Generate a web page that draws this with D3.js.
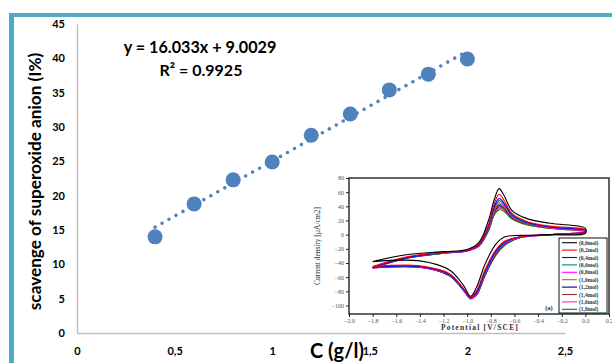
<!DOCTYPE html>
<html>
<head>
<meta charset="utf-8">
<script src="https://cdn.jsdelivr.net/npm/d3@7"></script>
<style>
  body { margin: 0; background: #fff; }
  text { font-family: Lato, "Open Sans", sans-serif; }
  .cv text { font-family: "Liberation Serif", "DejaVu Serif", serif; }
</style>
</head>
<body>
<script>
// main scatter data
const concentrations = [0.4, 0.6, 0.8, 1.0, 1.2, 1.4, 1.6, 1.8, 2.0];
const scavenge = [14.0, 18.8, 22.3, 24.9, 28.8, 31.9, 35.4, 37.7, 39.9];
const xTicks = [0, 0.5, 1, 1.5, 2, 2.5];
const yTicks = [0, 5, 10, 15, 20, 25, 30, 35, 40, 45];
const trendSlope = 16.033, trendIntercept = 9.0029, rSquared = 0.9925;

// inset voltammogram: potentials for the forward then the return branch
const potentials = [-1.8, -1.5, -1.2, -1.0, -0.9, -0.82, -0.77, -0.73, -0.69, -0.62, -0.5, -0.3, 0.0,
                    0.0, -0.3, -0.55, -0.68, -0.76, -0.85, -0.92, -0.97, -1.03, -1.15, -1.4, -1.8];
const cvLabels = ["(0,0mol)", "(0,2mol)", "(0,4mol)", "(0,6mol)", "(0,8mol)",
                  "(1,0mol)", "(1,2mol)", "(1,4mol)", "(1,6mol)", "(1,8mol)"];
const cvColors = ["#000000", "#ff0000", "#0000ff", "#008080", "#ff00ff",
                  "#808000", "#000080", "#993333", "#ff3399", "#008000"];
const cv00 = [-38, -28, -24, -21, -11, 20, 50, 65, 56, 34, 23, 16, 9,   2, 0, -1, -3, -14, -42, -74, -87, -72, -50, -37, -38];
const cv02 = [-45, -31, -25, -22, -13, 14, 44, 57, 49, 30, 19, 12, 7,   4, 0, -3, -9, -22, -50, -79, -88, -76, -55, -44, -45];
const cv04 = [-46, -32, -25, -22, -14, 12, 40, 51, 45, 28, 18, 11, 6,   4, 0, -3, -10, -24, -53, -81, -89, -77, -56, -45, -46];
const cv06 = [-46, -32, -26, -22, -14, 11, 38, 48, 43, 27, 17, 11, 6,   4, 0, -3, -11, -25, -54, -82, -89, -78, -57, -45, -46];
const cv08 = [-47, -32, -26, -23, -15, 10, 36, 45, 41, 26, 17, 10, 5,   4, 0, -4, -12, -26, -55, -83, -91, -79, -57, -46, -47];
const cv10 = [-46, -32, -26, -22, -15, 9, 34, 43, 39, 25, 16, 10, 5,    4, 0, -4, -12, -27, -56, -83, -89, -78, -57, -45, -46];
const cv12 = [-47, -33, -26, -23, -15, 8, 33, 41, 38, 24, 16, 10, 5,    4, 0, -4, -13, -28, -57, -84, -90, -79, -58, -46, -47];
const cv14 = [-46, -32, -26, -22, -16, 7, 31, 39, 36, 23, 15, 9, 5,     3, 0, -4, -13, -28, -57, -84, -89, -78, -57, -45, -46];
const cv16 = [-47, -33, -26, -23, -16, 6, 30, 37, 35, 23, 15, 9, 4,     3, 0, -4, -14, -29, -58, -85, -90, -79, -58, -46, -47];
const cv18 = [-46, -32, -26, -22, -16, 5, 28, 35, 33, 22, 14, 9, 4,     3, 0, -4, -15, -30, -58, -85, -89, -78, -57, -45, -46];
const cvCurrents = [cv00, cv02, cv04, cv06, cv08, cv10, cv12, cv14, cv16, cv18];
const cvXTicks = [-2.0, -1.8, -1.6, -1.4, -1.2, -1.0, -0.8, -0.6, -0.4, -0.2, 0.0, 0.2];
const cvYTicks = [-100, -80, -60, -40, -20, 0, 20, 40, 60, 80];

const W = 612, H = 363;
const svg = d3.select("body").append("svg").attr("width", W).attr("height", H);
svg.append("rect").attr("width", W).attr("height", H).attr("fill", "#fff");

// teal frame (top and left)
svg.append("rect").attr("x", 9).attr("y", 13).attr("width", W - 9).attr("height", 4).attr("fill", "#4bacc6");
svg.append("rect").attr("x", 9).attr("y", 13).attr("width", 5).attr("height", H - 13).attr("fill", "#4bacc6");

const x = d3.scaleLinear().domain([0, 2.5]).range([77, 565]);
const y = d3.scaleLinear().domain([0, 45]).range([333, 24]);
const comma = v => String(v).replace(".", ",");

const xAxis = svg.append("g").attr("transform", "translate(0,333)")
  .call(d3.axisBottom(x).tickValues(xTicks).tickSize(0).tickPadding(14).tickFormat(comma));
const yAxis = svg.append("g").attr("transform", "translate(77,0)")
  .call(d3.axisLeft(y).tickValues(yTicks).tickSize(0).tickPadding(12));
[xAxis, yAxis].forEach(a => {
  a.select(".domain").attr("stroke", "#bfbfbf").attr("stroke-width", 1.5);
  a.selectAll("text").attr("font-size", 11).attr("font-weight", "bold").attr("fill", "#000")
    .style("font-family", "Lato, sans-serif");
});

// axis titles
svg.append("text").attr("transform", "translate(41,181.5) rotate(-90)")
  .attr("text-anchor", "middle").attr("font-size", 17.2).attr("font-weight", "bold")
  .text("scavenge of superoxide anion (I%)");
svg.append("text").attr("x", 310).attr("y", 358)
  .attr("font-size", 20).attr("font-weight", "bold").text("C (g/l)");

// inset voltammogram (pasted picture)
const cv = svg.append("g").attr("class", "cv");
cv.append("rect").attr("x", 306).attr("y", 172).attr("width", W - 306).attr("height", 159).attr("fill", "#fff");
const ix = d3.scaleLinear().domain([-2.0, 0.2]).range([349, 609]);
const iy = d3.scaleLinear().domain([-112, 80]).range([314, 178]);

const line = d3.line()
  .x((d, i) => ix(potentials[i]))
  .y(d => iy(d))
  .curve(d3.curveCatmullRom.alpha(0.5));
cv.selectAll("path.cvline")
  .data(cvCurrents.map((c, i) => ({ c, i })).reverse())
  .join("path").attr("class", "cvline")
  .attr("d", d => line(d.c))
  .attr("fill", "none")
  .attr("stroke", d => cvColors[d.i])
  .attr("stroke-width", 1.1);

const ixAxis = cv.append("g").attr("transform", "translate(0,314)")
  .call(d3.axisBottom(ix).tickValues(cvXTicks).tickSize(3).tickPadding(2).tickFormat(d3.format(".1f")));
const iyAxis = cv.append("g").attr("transform", "translate(349,0)")
  .call(d3.axisLeft(iy).tickValues(cvYTicks).tickSize(3).tickPadding(2));
[ixAxis, iyAxis].forEach(a => {
  a.select(".domain").remove();
  a.selectAll("line").attr("stroke", "#222");
  a.selectAll("text").attr("font-size", 6).attr("fill", "#555")
    .style("font-family", "'Liberation Serif', serif");
});
cv.append("rect").attr("x", 349).attr("y", 178).attr("width", 260).attr("height", 136)
  .attr("fill", "none").attr("stroke", "#111").attr("stroke-width", 1.3);

cv.append("text").attr("transform", "translate(320,246) rotate(-90)")
  .attr("text-anchor", "middle").attr("font-size", 7.5).attr("fill", "#333")
  .text("Current density [µA/cm2]");
cv.append("text").attr("x", 480).attr("y", 330).attr("text-anchor", "middle")
  .attr("font-size", 7.5).attr("font-weight", "bold").attr("letter-spacing", 1.2).attr("fill", "#333")
  .text("Potential [V/SCE]");
cv.append("text").attr("x", 549).attr("y", 310).attr("text-anchor", "middle")
  .attr("font-size", 6.5).attr("font-weight", "bold").attr("fill", "#333").text("(a)");

// inset legend
const leg = cv.append("g");
leg.append("rect").attr("x", 559).attr("y", 238).attr("width", 48).attr("height", 75)
  .attr("fill", "#fff").attr("stroke", "#111").attr("stroke-width", 1);
const rows = leg.selectAll("g.row").data(cvLabels).join("g").attr("class", "row")
  .attr("transform", (d, i) => `translate(0,${242.7 + i * 7.4})`);
rows.append("line").attr("x1", 562).attr("x2", 577)
  .attr("stroke", (d, i) => cvColors[i]).attr("stroke-width", 1.1);
rows.append("text").attr("x", 579).attr("y", 2).attr("font-size", 5.5).attr("font-weight", "bold")
  .attr("fill", "#333").text(d => d);

// dotted linear trendline
svg.append("line")
  .attr("x1", x(concentrations[0])).attr("y1", y(trendSlope * concentrations[0] + trendIntercept))
  .attr("x2", x(concentrations[concentrations.length - 1]))
  .attr("y2", y(trendSlope * concentrations[concentrations.length - 1] + trendIntercept))
  .attr("stroke", "#4f81bd").attr("stroke-width", 3.6)
  .attr("stroke-linecap", "round").attr("stroke-dasharray", "0 8");

// points
svg.selectAll("circle.pt").data(concentrations).join("circle").attr("class", "pt")
  .attr("cx", d => x(d)).attr("cy", (d, i) => y(scavenge[i]))
  .attr("r", 7.5).attr("fill", "#4f81bd");

// equation
svg.append("text").attr("x", 200).attr("y", 53).attr("text-anchor", "middle")
  .attr("font-size", 16.2).attr("font-weight", "bold")
  .text(`y = ${trendSlope}x + ${trendIntercept}`);
svg.append("text").attr("x", 201).attr("y", 76).attr("text-anchor", "middle")
  .attr("font-size", 16).attr("font-weight", "bold")
  .text(`R² = ${rSquared}`);
</script>
</body>
</html>
